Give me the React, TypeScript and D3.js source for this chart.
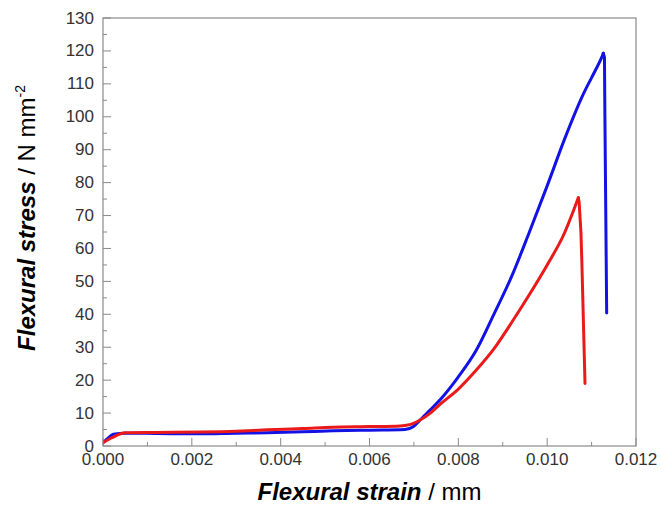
import React from "react";
import * as d3 from "d3";

const xTicks = [0, 0.002, 0.004, 0.006, 0.008, 0.01, 0.012];
const yTicks = [0, 10, 20, 30, 40, 50, 60, 70, 80, 90, 100, 110, 120, 130];

const blueStrain = [0, 0.0001, 0.00023, 0.0005, 0.0012, 0.00218, 0.003, 0.00369, 0.0045, 0.00518, 0.006, 0.00669, 0.0069, 0.00699, 0.00714, 0.007363, 0.0076, 0.008, 0.0084, 0.0088, 0.0092, 0.0096, 0.01, 0.0104, 0.0108, 0.0111, 0.01122, 0.011264, 0.01129, 0.0113, 0.01132, 0.01134];
const blueStress = [1.0, 2.2, 3.6, 3.9, 3.8, 3.7, 3.9, 4.0, 4.3, 4.6, 4.8, 4.9, 5.3, 5.9, 7.9, 10.9, 14.2, 21.0, 29.0, 40.0, 51.5, 65.0, 79.0, 93.5, 106.5, 114.5, 117.8, 119.3, 118.0, 100.0, 70.0, 40.4];

const redStrain = [0, 0.0002, 0.0005, 0.0012, 0.0022, 0.003, 0.00369, 0.0045, 0.00518, 0.006, 0.00669, 0.0069, 0.00699, 0.00714, 0.007363, 0.0076, 0.008, 0.0084, 0.0088, 0.0092, 0.0096, 0.01, 0.0104, 0.01055, 0.010701, 0.01072, 0.01076, 0.01078, 0.010852];
const redStress = [1.0, 2.5, 4.0, 4.1, 4.25, 4.5, 4.9, 5.3, 5.7, 5.9, 6.1, 6.5, 6.9, 7.9, 9.9, 12.8, 17.3, 23.0, 29.5, 37.5, 46.0, 55.0, 65.0, 70.0, 75.4, 74.0, 65.0, 56.5, 19.0];

const W = 662, H = 510;
const M = { left: 103, right: 636, top: 18, bottom: 446 };

type P = [number, number];

export default function App() {
  const x = d3.scaleLinear().domain([0, 0.012]).range([M.left, M.right]);
  const y = d3.scaleLinear().domain([0, 130]).range([M.bottom, M.top]);
  const smooth = d3.line<P>().x((d) => x(d[0])).y((d) => y(d[1])).curve(d3.curveMonotoneX);
  const straight = d3.line<P>().x((d) => x(d[0])).y((d) => y(d[1]));
  const build = (xs: number[], ys: number[]) => {
    const pts = xs.map((s, i) => [s, ys[i]] as P);
    const peak = d3.maxIndex(ys);
    return { rise: pts.slice(0, peak + 1), drop: pts.slice(peak) };
  };
  const blue = build(blueStrain, blueStress);
  const red = build(redStrain, redStress);
  const yMinor = d3.range(5, 130, 10);
  const xMinor = d3.range(0.001, 0.012, 0.002);
  const axisColor = "#8a8a8a";
  const font = "'Liberation Sans', Arial, sans-serif";
  const series = [
    { d: blue, c: "#1212e6" },
    { d: red, c: "#ea1a1a" },
  ];
  return (
    <svg width={W} height={H} style={{ position: "absolute", left: 0, top: 0 }} fontFamily={font}>
      <rect x={0} y={0} width={W} height={H} fill="#fff" />
      <defs>
        <clipPath id="plot">
          <rect x={M.left} y={M.top} width={M.right - M.left} height={M.bottom - M.top} />
        </clipPath>
      </defs>
      {yTicks.map((t) => (
        <g key={"y" + t}>
          <line x1={M.left} x2={M.left + 8} y1={y(t)} y2={y(t)} stroke={axisColor} strokeWidth={1} />
          <text x={94} y={y(t) + 5.5} textAnchor="end" fontSize={17} fill="#333">{t}</text>
        </g>
      ))}
      {yMinor.map((t) => (
        <line key={"ym" + t} x1={M.left} x2={M.left + 4} y1={y(t)} y2={y(t)} stroke={axisColor} strokeWidth={1} />
      ))}
      {xTicks.map((t) => (
        <g key={"x" + t}>
          <line x1={x(t)} x2={x(t)} y1={M.bottom} y2={M.bottom - 8} stroke={axisColor} strokeWidth={1} />
          <text x={x(t)} y={465} textAnchor="middle" fontSize={17} fill="#333">{t.toFixed(3)}</text>
        </g>
      ))}
      {xMinor.map((t) => (
        <line key={"xm" + t} x1={x(t)} x2={x(t)} y1={M.bottom} y2={M.bottom - 4} stroke={axisColor} strokeWidth={1} />
      ))}
      <g clipPath="url(#plot)">
        {series.map((s, i) => (
          <g key={i}>
            <path d={smooth(s.d.rise) || ""} fill="none" stroke={s.c} strokeWidth={3} strokeLinejoin="round" strokeLinecap="round" />
            <path d={straight(s.d.drop) || ""} fill="none" stroke={s.c} strokeWidth={3} strokeLinejoin="round" strokeLinecap="round" />
          </g>
        ))}
      </g>
      <rect x={M.left} y={M.top} width={M.right - M.left} height={M.bottom - M.top} fill="none" stroke={axisColor} strokeWidth={1.2} />
      <text x={(M.left + M.right) / 2} y={500} textAnchor="middle" fontSize={24} fill="#000">
        <tspan fontWeight="bold" fontStyle="italic">Flexural strain</tspan>
        <tspan> / mm</tspan>
      </text>
      <text transform={`translate(35, ${218}) rotate(-90)`} textAnchor="middle" fontSize={24} fill="#000">
        <tspan fontWeight="bold" fontStyle="italic">Flexural stress</tspan>
        <tspan> / N mm</tspan>
        <tspan fontSize={14} dy={-10}>-2</tspan>
      </text>
    </svg>
  );
}
